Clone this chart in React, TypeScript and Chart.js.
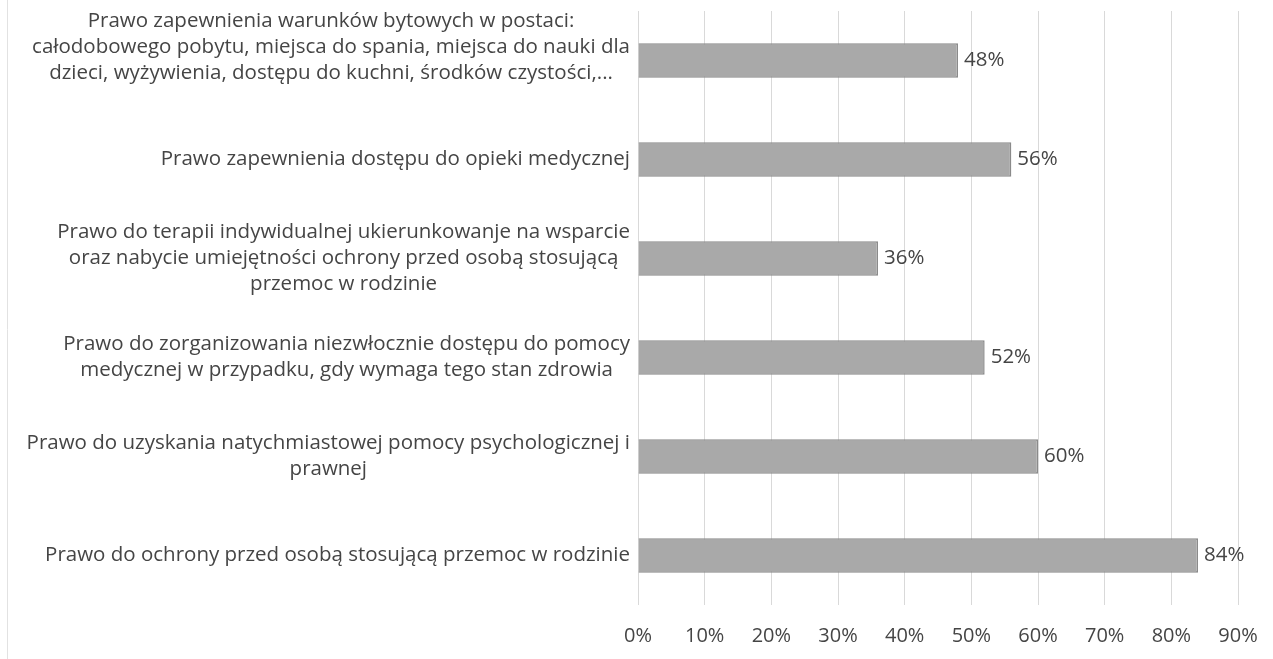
import React, { useEffect, useRef } from "react";
import { Chart, registerables } from "chart.js";

Chart.register(...registerables);

const categories: string[][] = [
  [
    "Prawo zapewnienia warunków bytowych w postaci:",
    "całodobowego pobytu, miejsca do spania, miejsca do nauki dla",
    "dzieci, wyżywienia, dostępu do kuchni, środków czystości,...",
    "",
  ],
  ["Prawo zapewnienia dostępu do opieki medycznej"],
  [
    "Prawo do terapii indywidualnej ukierunkowanje na wsparcie",
    "oraz nabycie umiejętności ochrony przed osobą stosującą",
    "przemoc w rodzinie",
  ],
  [
    "Prawo do zorganizowania niezwłocznie dostępu do pomocy",
    "medycznej w przypadku, gdy wymaga tego stan zdrowia",
  ],
  [
    "Prawo do uzyskania natychmiastowej pomocy psychologicznej i",
    "prawnej",
  ],
  ["Prawo do ochrony przed osobą stosującą przemoc w rodzinie"],
];

const values: number[] = [48, 56, 36, 52, 60, 84];

const xTicksMax = 90;
const xTicksStep = 10;

const FONT_FAMILY = "'Open Sans', 'Noto Sans', sans-serif";
const LABEL_SIZE = 20.5;
const TICK_SIZE = 20;
const TEXT_COLOR = "#454545";

const frameLinePlugin = {
  id: "frameLinePlugin",
  beforeDraw(chart: any) {
    const ctx = chart.ctx;
    ctx.save();
    ctx.strokeStyle = "#e2e2e2";
    ctx.lineWidth = 1;
    ctx.beginPath();
    ctx.moveTo(7.5, 0);
    ctx.lineTo(7.5, chart.height);
    ctx.stroke();
    ctx.restore();
  },
};

const yLabelPlugin = {
  id: "yLabelPlugin",
  afterDraw(chart: any) {
    const ctx = chart.ctx;
    const yScale = chart.scales.y;
    const right = chart.chartArea.left - 8;
    ctx.save();
    ctx.font = `${LABEL_SIZE}px ${FONT_FAMILY}`;
    ctx.fillStyle = TEXT_COLOR;
    ctx.textBaseline = "middle";
    ctx.textAlign = "center";
    const lh = 26;
    categories.forEach((lines, i) => {
      const yc = yScale.getPixelForTick(i);
      let maxW = 0;
      lines.forEach((l) => {
        maxW = Math.max(maxW, ctx.measureText(l).width);
      });
      const cx = right - maxW / 2;
      const y0 = yc - ((lines.length - 1) * lh) / 2;
      lines.forEach((l, j) => {
        if (l) ctx.fillText(l, cx, y0 + j * lh);
      });
    });
    ctx.restore();
  },
};

const dataLabelPlugin = {
  id: "dataLabelPlugin",
  afterDatasetsDraw(chart: any) {
    const ctx = chart.ctx;
    const meta = chart.getDatasetMeta(0);
    ctx.save();
    ctx.font = `${LABEL_SIZE}px ${FONT_FAMILY}`;
    ctx.fillStyle = TEXT_COLOR;
    ctx.textBaseline = "middle";
    ctx.textAlign = "left";
    meta.data.forEach((bar: any, i: number) => {
      ctx.fillText(`${values[i]}%`, bar.x + 6, bar.y);
    });
    ctx.restore();
  },
};

export default function App() {
  const ref = useRef<HTMLCanvasElement | null>(null);

  useEffect(() => {
    if (!ref.current) return;
    const chart = new Chart(ref.current, {
      type: "bar",
      data: {
        labels: categories.map((c) => c.join(" ")),
        datasets: [
          {
            data: values,
            backgroundColor: "#a9a9a9",
            borderColor: "#8a8a8a",
            borderWidth: 1.5,
            categoryPercentage: 1,
            barPercentage: 0.35,
          },
        ],
      },
      options: {
        indexAxis: "y",
        animation: false,
        responsive: true,
        maintainAspectRatio: false,
        layout: { padding: { top: 11, right: 35, left: 0, bottom: 0 } },
        plugins: {
          legend: { display: false },
          tooltip: { enabled: false },
        },
        scales: {
          x: {
            min: 0,
            max: xTicksMax,
            ticks: {
              stepSize: xTicksStep,
              callback: (v: any) => `${v}%`,
              font: { family: FONT_FAMILY, size: TICK_SIZE },
              color: TEXT_COLOR,
              padding: 19,
            },
            grid: { color: "#d9d9d9", drawTicks: false, lineWidth: 1 },
            border: { display: false },
            afterFit(scale: any) {
              scale.height = 54;
              scale.paddingRight = 0;
              scale.paddingLeft = 0;
            },
          },
          y: {
            ticks: { display: false },
            grid: { display: false },
            border: { display: false },
            afterFit(scale: any) {
              scale.width = 638;
            },
          },
        },
      },
      plugins: [frameLinePlugin, yLabelPlugin, dataLabelPlugin],
    });
    return () => chart.destroy();
  }, []);

  return (
    <div
      style={{
        position: "fixed",
        left: 0,
        top: 0,
        width: 1273,
        height: 659,
        background: "#ffffff",
      }}
    >
      <canvas ref={ref} />
    </div>
  );
}
